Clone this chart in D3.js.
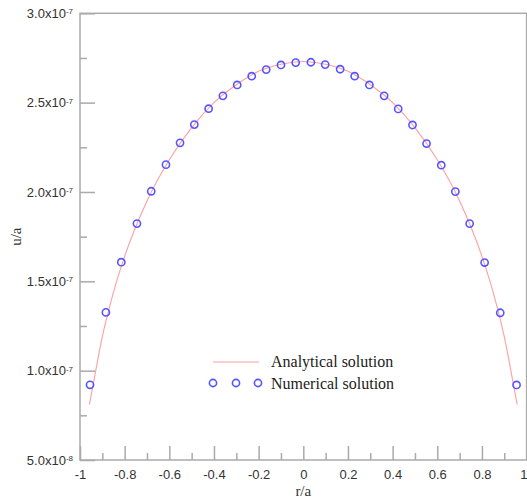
<!DOCTYPE html>
<html>
<head>
<meta charset="utf-8">
<script src="https://cdn.jsdelivr.net/npm/d3@7"></script>
<style>
  body { margin: 0; background: #fff; }
  svg { display: block; }
</style>
</head>
<body>
<div id="vis1"></div>
<script>
// frame
const FRAME_HEIGHT = 501;
const FRAME_WIDTH = 527;
const MARGINS = {left: 80, right: 0.4, top: 13.3, bottom: 41};

// numerical solution (r/a, u/a)
const rNum = [-0.955, -0.884, -0.815, -0.745, -0.681, -0.615, -0.552, -0.488, -0.424, -0.360,
              -0.296, -0.231, -0.166, -0.100, -0.034, 0.034, 0.098, 0.165, 0.230, 0.296,
              0.362, 0.425, 0.489, 0.552, 0.618, 0.681, 0.745, 0.812, 0.882, 0.955];
const uNum = [0.921e-7, 1.326e-7, 1.607e-7, 1.823e-7, 2.004e-7, 2.153e-7, 2.275e-7, 2.377e-7, 2.466e-7, 2.538e-7,
              2.599e-7, 2.648e-7, 2.685e-7, 2.711e-7, 2.724e-7, 2.726e-7, 2.713e-7, 2.687e-7, 2.648e-7, 2.599e-7,
              2.538e-7, 2.465e-7, 2.375e-7, 2.271e-7, 2.150e-7, 2.002e-7, 1.823e-7, 1.605e-7, 1.324e-7, 0.920e-7];

// analytical solution
const rAna = [-0.958, -0.94, -0.9, -0.85, -0.8, -0.7, -0.6, -0.5, -0.4, -0.3, -0.2, -0.1, 0,
              0.1, 0.2, 0.3, 0.4, 0.5, 0.6, 0.7, 0.8, 0.85, 0.9, 0.94, 0.958];
const uAna = [0.81e-7, 0.93e-7, 1.19e-7, 1.44e-7, 1.64e-7, 1.95e-7, 2.18e-7, 2.36e-7, 2.50e-7, 2.60e-7, 2.675e-7, 2.715e-7, 2.73e-7,
              2.715e-7, 2.675e-7, 2.60e-7, 2.50e-7, 2.36e-7, 2.18e-7, 1.95e-7, 1.64e-7, 1.44e-7, 1.19e-7, 0.93e-7, 0.81e-7];

// ticks
const xMajor = [-1, -0.8, -0.6, -0.4, -0.2, 0, 0.2, 0.4, 0.6, 0.8, 1];
const xMinor = [-0.9, -0.7, -0.5, -0.3, -0.1, 0.1, 0.3, 0.5, 0.7, 0.9];
const xLabels = ["-1", "-0.8", "-0.6", "-0.4", "-0.2", "0", "0.2", "0.4", "0.6", "0.8", "1"];
const yMajor = [5e-8, 1e-7, 1.5e-7, 2e-7, 2.5e-7, 3e-7];
const yMinor = [7.5e-8, 1.25e-7, 1.75e-7, 2.25e-7, 2.75e-7];
const yMant = ["5.0", "1.0", "1.5", "2.0", "2.5", "3.0"];
const yExp = ["-8", "-7", "-7", "-7", "-7", "-7"];

const legendNames = ["Analytical solution", "Numerical solution"];

const AXIS_COLOR = "#aaaaaa";
const LINE_COLOR = "#ff9f9f";
const DOT_COLOR = "#5555ff";

const FRAME1 = d3.select("#vis1")
                  .append("svg")
                    .attr("height", FRAME_HEIGHT)
                    .attr("width", FRAME_WIDTH);

const xScale = d3.scaleLinear()
  .domain([-1, 1])
  .range([MARGINS.left, FRAME_WIDTH - MARGINS.right]);

const yScale = d3.scaleLinear()
  .domain([5e-8, 3e-7])
  .range([FRAME_HEIGHT - MARGINS.bottom, MARGINS.top]);

const bottomY = FRAME_HEIGHT - MARGINS.bottom;

// minor ticks
FRAME1.append("g")
  .attr("class", "minor")
  .attr("transform", `translate(0, ${bottomY})`)
  .call(d3.axisBottom(xScale).tickValues(xMinor).tickSize(-7).tickFormat(""));

FRAME1.append("g")
  .attr("class", "minor")
  .attr("transform", `translate(${MARGINS.left}, 0)`)
  .call(d3.axisLeft(yScale).tickValues(yMinor).tickSize(-7).tickFormat(""));

// major ticks + labels
const xAxis = FRAME1.append("g")
  .attr("transform", `translate(0, ${bottomY})`)
  .call(d3.axisBottom(xScale).tickValues(xMajor).tickSize(-14).tickPadding(10)
        .tickFormat((d, i) => xLabels[i]));

// last label sits on the right edge, keep it inside the picture
xAxis.selectAll(".tick text")
  .filter(d => d === 1)
  .attr("text-anchor", "end")
  .attr("dx", 0.5);

const yAxis = FRAME1.append("g")
  .attr("transform", `translate(${MARGINS.left}, 0)`)
  .call(d3.axisLeft(yScale).tickValues(yMajor).tickSize(-15).tickPadding(7)
        .tickFormat(""));

yAxis.selectAll(".tick text").each(function(d, i) {
  const t = d3.select(this);
  t.append("tspan").text(yMant[i] + "x10");
  t.append("tspan").attr("dy", "-0.45em").attr("font-size", 8).text(yExp[i]);
});

FRAME1.selectAll(".domain").remove();
FRAME1.selectAll(".tick line")
  .attr("stroke", AXIS_COLOR)
  .attr("stroke-width", 1.5);
FRAME1.selectAll(".tick text")
  .attr("fill", "#333")
  .attr("font-family", "Liberation Sans, Arial, sans-serif")
  .attr("font-size", 13);

// frame box
FRAME1.append("rect")
  .attr("x", xScale(-1))
  .attr("y", yScale(3e-7))
  .attr("width", xScale(1) - xScale(-1))
  .attr("height", yScale(5e-8) - yScale(3e-7))
  .attr("fill", "none")
  .attr("stroke", AXIS_COLOR)
  .attr("stroke-width", 1.5);

// analytical curve
const ana = rAna.map((r, i) => ({r: r, u: uAna[i]}));
FRAME1.append("path")
  .datum(ana)
  .attr("fill", "none")
  .attr("stroke", LINE_COLOR)
  .attr("stroke-width", 1.1)
  .attr("d", d3.line().x(d => xScale(d.r)).y(d => yScale(d.u)).curve(d3.curveMonotoneX));

// numerical points
const num = rNum.map((r, i) => ({r: r, u: uNum[i]}));
FRAME1.selectAll(".dot")
  .data(num)
  .enter()
  .append("circle")
  .attr("cx", d => xScale(d.r))
  .attr("cy", d => yScale(d.u))
  .attr("r", 3.6)
  .attr("fill", "none")
  .attr("stroke", DOT_COLOR)
  .attr("stroke-width", 1.6);

// axis titles
FRAME1.append("text")
  .attr("x", xScale(0))
  .attr("y", 496)
  .attr("text-anchor", "middle")
  .attr("font-family", "Liberation Serif, Times New Roman, serif")
  .attr("font-size", 15)
  .attr("fill", "#333")
  .text("r/a");

FRAME1.append("text")
  .attr("transform", `translate(21, ${(MARGINS.top + bottomY) / 2}) rotate(-90)`)
  .attr("text-anchor", "middle")
  .attr("font-family", "Liberation Serif, Times New Roman, serif")
  .attr("font-size", 15)
  .attr("fill", "#333")
  .text("u/a");

// legend
const legend = FRAME1.append("g").attr("transform", "translate(213, 362)");
legend.append("line")
  .attr("x1", 0).attr("x2", 46)
  .attr("y1", 0).attr("y2", 0)
  .attr("stroke", LINE_COLOR)
  .attr("stroke-width", 1.1);
legend.selectAll(".ldot")
  .data([0, 23, 45])
  .enter()
  .append("circle")
  .attr("cx", d => d)
  .attr("cy", 21)
  .attr("r", 3.6)
  .attr("fill", "none")
  .attr("stroke", DOT_COLOR)
  .attr("stroke-width", 1.6);
legend.selectAll(".ltext")
  .data(legendNames)
  .enter()
  .append("text")
  .attr("x", 58)
  .attr("y", (d, i) => 5 + i * 21.5)
  .attr("font-family", "Liberation Serif, Times New Roman, serif")
  .attr("font-size", 16)
  .attr("fill", "#222")
  .text(d => d);
</script>
</body>
</html>
